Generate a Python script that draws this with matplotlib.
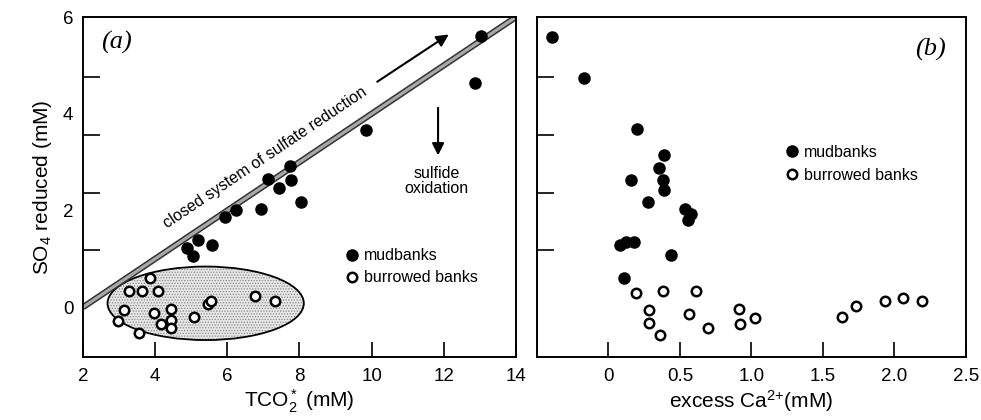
import matplotlib
matplotlib.use("Agg")
import matplotlib.pyplot as plt
from matplotlib.patches import Ellipse

plt.rcParams.update({
    "font.family": ["Liberation Sans", "DejaVu Sans"],
    "mathtext.fontset": "custom",
    "mathtext.rm": "Liberation Sans",
    "mathtext.it": "Liberation Sans:italic",
    "mathtext.bf": "Liberation Sans:bold",
    "hatch.linewidth": 0.6,
})

# panel (a): TCO2* vs SO4 reduced
mud_tco2 = [13.04, 12.86, 9.83, 7.75, 7.13, 7.77, 7.44, 8.03, 6.93, 6.24, 5.94, 5.20, 4.87, 5.57, 5.06]
mud_so4_a = [5.60, 4.64, 3.66, 2.92, 2.65, 2.63, 2.46, 2.17, 2.02, 2.00, 1.86, 1.39, 1.22, 1.28, 1.06]
bur_tco2 = [3.87, 3.28, 3.63, 4.07, 3.14, 2.98, 3.56, 3.97, 4.16, 4.44, 4.44, 4.44, 5.08, 5.47, 5.55, 6.76, 7.33]
bur_so4_a = [0.61, 0.33, 0.33, 0.33, -0.06, -0.28, -0.53, -0.13, -0.34, -0.04, -0.26, -0.43, -0.21, 0.06, 0.13, 0.23, 0.12]

# closed-system line and shaded field
closed_x = [2, 14]
closed_y = [0, 6]
field_center = (5.40, 0.08)
field_w, field_h = 5.44, 1.52

# panel (b): excess Ca2+ vs SO4 reduced
mud_ca = [-0.393, -0.172, 0.200, 0.386, 0.356, 0.154, 0.382, 0.391, 0.275, 0.537, 0.579, 0.554,
          0.079, 0.123, 0.181, 0.437, 0.107]
mud_so4_b = [5.58, 4.73, 3.68, 3.15, 2.87, 2.63, 2.62, 2.42, 2.17, 2.02, 1.93, 1.80,
             1.28, 1.34, 1.34, 1.08, 0.61]
bur_ca = [0.193, 0.382, 0.612, 0.286, 0.286, 0.363, 0.565, 0.693, 0.914, 0.921, 1.026,
          1.635, 1.728, 1.933, 2.061, 2.189]
bur_so4_b = [0.30, 0.33, 0.33, -0.06, -0.32, -0.58, -0.15, -0.44, -0.03, -0.35, -0.23,
             -0.20, 0.03, 0.13, 0.20, 0.12]

ytick_marks = [0, 1.19, 2.37, 3.56, 4.76]
ytick_labels = [0, 2, 4, 6]

fig = plt.figure(figsize=(9.81, 4.2), dpi=100)
ax1 = fig.add_axes([0.0846, 0.15, 0.4414, 0.8095])
ax2 = fig.add_axes([0.5474, 0.15, 0.4373, 0.8095])

filled = dict(marker="o", ls="none", ms=8, mfc="black", mec="black", mew=1)
hollow = dict(marker="o", ls="none", ms=6.8, mfc="white", mec="black", mew=1.8)

for ax in (ax1, ax2):
    for s in ax.spines.values():
        s.set_linewidth(1.4)
    ax.set_ylim(-1.03, 6.0)
    ax.set_yticks(ytick_labels)
    ax.set_yticks(ytick_marks, minor=True)
    ax.tick_params(axis="y", which="major", length=0, labelsize=13.5, pad=7)
    ax.tick_params(axis="y", which="minor", direction="in", length=12, width=1.2)
    ax.tick_params(axis="x", direction="in", length=11, width=1.2, labelsize=13.5, pad=8)

# (a)
ax1.set_xlim(2, 14)
ax1.set_xticks(range(2, 15, 2))
ax1.add_patch(Ellipse(field_center, field_w, field_h, facecolor="#e6e6e6", edgecolor="#8a8a8a",
                      hatch="......", lw=0, zorder=1))
ax1.add_patch(Ellipse(field_center, field_w, field_h, fill=False, edgecolor="black", lw=1.3, zorder=1))
ax1.plot(closed_x, closed_y, color="#333333", lw=4.5, solid_capstyle="butt", zorder=2)
ax1.plot(closed_x, closed_y, color="#a8a8a8", lw=2.3, solid_capstyle="butt", zorder=2)
ax1.plot(mud_tco2, mud_so4_a, label="mudbanks", zorder=3, **filled)
ax1.plot(bur_tco2, bur_so4_a, label="burrowed banks", zorder=3, **hollow)
ax1.text(7.05, 3.1, "closed system of sulfate reduction", rotation=33.8, fontsize=11.5,
         ha="center", va="center", rotation_mode="anchor")
ax1.annotate("", xy=(12.2, 5.67), xytext=(10.09, 4.63),
             arrowprops=dict(arrowstyle="-|>", color="black", lw=1.5, mutation_scale=18))
ax1.annotate("", xy=(11.84, 3.08), xytext=(11.84, 4.18),
             arrowprops=dict(arrowstyle="-|>", color="black", lw=1.5, mutation_scale=18))
ax1.text(11.8, 2.61, "sulfide\noxidation", fontsize=11.5, ha="center", va="center", linespacing=1.0)
ax1.text(0.077, 0.925, "(a)", transform=ax1.transAxes, fontsize=19, style="italic",
         family="Liberation Serif", ha="center", va="center")
ax1.set_xlabel(r"TCO$_2^*$ (mM)", fontsize=15, labelpad=2)
ax1.set_ylabel(r"SO$_4$ reduced (mM)", fontsize=15, labelpad=6)
ax1.legend(loc="upper left", bbox_to_anchor=(0.606, 0.32), frameon=False, fontsize=11.5,
           handlelength=0.8, handletextpad=0.37, labelspacing=0.45, borderpad=0, borderaxespad=0)

# (b)
ax2.set_xlim(-0.5, 2.5)
ax2.set_xticks([0, 0.5, 1.0, 1.5, 2.0, 2.5])
ax2.set_xticklabels(["0", "0.5", "1.0", "1.5", "2.0", "2.5"])
ax2.tick_params(axis="y", which="major", labelleft=False)
ax2.plot(mud_ca, mud_so4_b, label="mudbanks", zorder=3, **filled)
ax2.plot(bur_ca, bur_so4_b, label="burrowed banks", zorder=3, **hollow)
ax2.text(0.916, 0.905, "(b)", transform=ax2.transAxes, fontsize=19, style="italic",
         family="Liberation Serif", ha="center", va="center")
ax2.set_xlabel(r"excess Ca$^{2{+}}$(mM)", fontsize=15, labelpad=2)
ax2.legend(loc="upper left", bbox_to_anchor=(0.5795, 0.624), frameon=False, fontsize=11.5,
           handlelength=0.8, handletextpad=0.37, labelspacing=0.5, borderpad=0, borderaxespad=0)

fig.savefig("out.png", dpi=100)
